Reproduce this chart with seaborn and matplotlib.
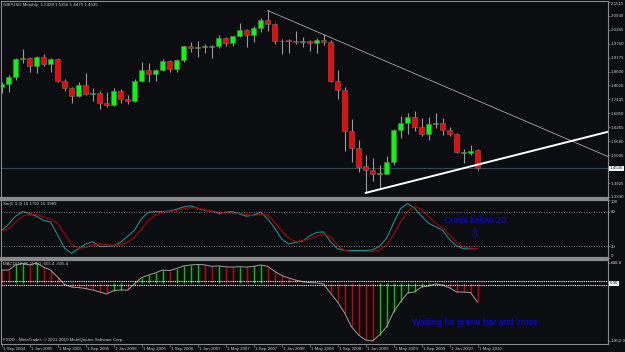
import matplotlib
matplotlib.use("Agg")
import matplotlib.pyplot as plt
import matplotlib.transforms as mtransforms
import numpy as np
import pandas as pd
import seaborn as sns

# ==============================================================================
# --- Chart data: GBPUSD monthly candles, Sep 2004 - May 2010 ---
# ==============================================================================
OPEN = [1.7960, 1.8090, 1.8350, 1.9120, 1.9180, 1.8840, 1.9210, 1.8900, 1.9120, 1.8190,
        1.7920, 1.7590, 1.8030, 1.7660, 1.7700, 1.7280, 1.7190, 1.7790, 1.7440, 1.7360,
        1.8220, 1.8680, 1.8490, 1.8680, 1.9040, 1.8720, 1.9080, 1.9650, 1.9580, 1.9610,
        1.9620, 1.9670, 1.9990, 1.9800, 2.0070, 2.0330, 2.0140, 2.0440, 2.0780, 2.0580,
        1.9860, 1.9890, 1.9880, 1.9850, 1.9860, 1.9790, 1.9910, 1.9850, 1.8220, 1.7820,
        1.6100, 1.5390, 1.4620, 1.4470, 1.4300, 1.4310, 1.4790, 1.6150, 1.6450, 1.6700,
        1.6290, 1.5980, 1.6420, 1.6450, 1.6160, 1.5980, 1.5200, 1.5180, 1.5328]
HIGH = [1.8140, 1.8450, 1.9150, 1.9550, 1.9200, 1.9250, 1.9320, 1.9150, 1.9160, 1.8300,
        1.7950, 1.8160, 1.8540, 1.7910, 1.7800, 1.7750, 1.7900, 1.7860, 1.7620, 1.8290,
        1.8980, 1.8950, 1.8720, 1.9120, 1.9100, 1.9110, 1.9680, 1.9840, 1.9880, 1.9760,
        1.9720, 2.0130, 2.0050, 2.0110, 2.0630, 2.0400, 2.0510, 2.0840, 2.1160, 2.0630,
        1.9980, 1.9960, 2.0300, 2.0050, 1.9920, 1.9990, 2.0170, 1.9910, 1.8650, 1.7940,
        1.6600, 1.5730, 1.5120, 1.4990, 1.4690, 1.5060, 1.6210, 1.6740, 1.6870, 1.6960,
        1.6660, 1.6700, 1.6880, 1.6660, 1.6280, 1.6030, 1.5350, 1.5520, 1.5356]
LOW = [1.7700, 1.7730, 1.8240, 1.8960, 1.8560, 1.8540, 1.8830, 1.8580, 1.8150, 1.7780,
       1.7280, 1.7540, 1.7600, 1.7360, 1.7030, 1.7100, 1.7170, 1.7280, 1.7230, 1.7320,
       1.8150, 1.8150, 1.8200, 1.8640, 1.8580, 1.8570, 1.9010, 1.9420, 1.9210, 1.9380,
       1.9170, 1.9600, 1.9660, 1.9660, 2.0060, 1.9630, 1.9840, 2.0260, 2.0300, 1.9750,
       1.9340, 1.9360, 1.9760, 1.9630, 1.9450, 1.9360, 1.9700, 1.8180, 1.7450, 1.5250,
       1.4810, 1.4390, 1.3510, 1.4000, 1.3660, 1.4290, 1.4690, 1.5810, 1.5990, 1.6100,
       1.5880, 1.5710, 1.6220, 1.5950, 1.5900, 1.5170, 1.4770, 1.5100, 1.4475]
CLOSE = [1.8090, 1.8350, 1.9120, 1.9180, 1.8840, 1.9210, 1.8900, 1.9120, 1.8190, 1.7920,
         1.7590, 1.8030, 1.7660, 1.7700, 1.7280, 1.7190, 1.7790, 1.7440, 1.7360, 1.8220,
         1.8680, 1.8490, 1.8680, 1.9040, 1.8720, 1.9080, 1.9650, 1.9580, 1.9610, 1.9620,
         1.9670, 1.9990, 1.9800, 2.0070, 2.0330, 2.0140, 2.0440, 2.0780, 2.0580, 1.9860,
         1.9890, 1.9880, 1.9850, 1.9860, 1.9790, 1.9910, 1.9850, 1.8220, 1.7820, 1.6100,
         1.5390, 1.4590, 1.4470, 1.4300, 1.4340, 1.4800, 1.6150, 1.6450, 1.6700, 1.6290,
         1.5980, 1.6420, 1.6450, 1.6160, 1.5980, 1.5230, 1.5210, 1.5270, 1.4535]

# Stochastic(5,3,3): main (teal) and signal (red) line
STOCH_MAIN = [47, 58, 72, 80, 77, 72, 65, 62, 40, 17, 8, 16, 24, 28, 20, 20, 21, 27, 37, 48,
              68, 79, 80, 80, 81, 84, 88, 90, 86, 82, 81, 77, 79, 80, 76, 72, 74, 79, 68, 52,
              33, 24, 27, 29, 38, 44, 45, 28, 16, 13, 13, 13, 13, 14, 20, 34, 60, 85, 94, 86,
              72, 60, 54, 48, 32, 21, 16, 16, 16.18]
STOCH_SIGNAL = [47, 50, 62, 72, 76, 75, 71, 67, 60, 42, 24, 17, 18, 23, 24, 23, 22, 23, 27, 36,
                50, 65, 74, 79, 80, 82, 85, 87, 86, 83, 81, 79, 78, 77, 77, 75, 73, 75, 74, 62,
                47, 35, 28, 30, 33, 38, 42, 36, 22, 13, 11, 11, 11, 11, 14, 22, 40, 62, 80, 89,
                84, 72, 60, 52, 40, 27, 19, 17, 16.40]

# MACD(12,26,1) histogram and bar colours (g = rising, r = falling)
MACD = [423, 420, 584, 640, 584, 648.8, 520, 423, 199, -40,
        -122, -140, -170, -218, -280, -346, -240, -215, -225, -20,
        180, 260, 330, 423, 405, 470, 552, 584, 600, 590,
        540, 555, 525, 515, 530, 515, 540, 584, 545, 385,
        250, 170, 100, 50, 20, 10, -26, -320, -600, -950,
        -1400, -1660, -1820, -1852.9, -1660, -1400, -925, -600, -314, -280,
        -120, -90, -20, -60, -150, -280, -285, -300, -605.4]
MACD_COLORS = list("rrggrgrrrr" "rrrrrrggrg" "ggggrggggr" "rgrrgrggrr"
                   "rrrrrrrrrr" "rrrrgggggg" "gggrrrrrr")

# Trend lines drawn on the price window (bar index, price)
DOWN_LINE_X = [38, 87]
DOWN_LINE_Y = [2.1160, 1.4990]
UP_LINE_X = [52, 87]
UP_LINE_Y = [1.3510, 1.6100]
BID_PRICE = 1.4535

# Axis labels
PRICE_TICKS = ["2.1515", "2.0930", "2.0345", "1.9760", "1.9175", "1.8600", "1.8020",
               "1.7435", "1.6850", "1.6265", "1.5680", "1.5095", "1.3925", "1.3340"]
TIME_TICKS = [0, 4, 8, 12, 16, 20, 24, 28, 32, 36, 40, 44, 48, 52, 56, 60, 64, 68]
TIME_LABELS = ["1 Sep 2004", "1 Jan 2005", "1 May 2005", "1 Sep 2005", "1 Jan 2006",
               "1 May 2006", "1 Sep 2006", "1 Jan 2007", "1 May 2007", "1 Sep 2007",
               "1 Jan 2008", "1 May 2008", "1 Sep 2008", "1 Jan 2009", "1 May 2009",
               "1 Sep 2009", "1 Jan 2010", "1 May 2010"]

# --- Style settings ---
BG = "#0c0d10"
SPINE = "#8a8a8a"
LABEL = "#c8c8c8"
UP_COL = "#00ff00"
DOWN_COL = "#ff0000"
WICK = "#9a9a9a"
BLUE = "#0a0aee"
SMALL = 3.2

W, H = 625, 352


def main():
    sns.set_style("dark")
    plt.rcParams['font.family'] = ['Liberation Sans', 'DejaVu Sans']

    df = pd.DataFrame({'open': OPEN, 'high': HIGH, 'low': LOW, 'close': CLOSE,
                       'sto_main': STOCH_MAIN, 'sto_sig': STOCH_SIGNAL,
                       'macd': MACD, 'macd_col': MACD_COLORS})
    df['bar'] = np.arange(len(df))

    fig = plt.figure(figsize=(W / 100, H / 100), dpi=100)
    fig.patch.set_facecolor(BG)

    def px_axes(x0, y0, x1, y1):
        return fig.add_axes([x0 / W, 1 - y1 / H, (x1 - x0) / W, (y1 - y0) / H])

    ax_main = px_axes(1, 1, 608, 198)
    ax_sto = px_axes(1, 200, 608, 258)
    ax_macd = px_axes(1, 260, 608, 343.5)

    xmin, xmax = (1 - 1.5) / 7, (608 - 1.5) / 7
    for ax in (ax_main, ax_sto, ax_macd):
        ax.set_facecolor(BG)
        ax.set_xlim(xmin, xmax)
        ax.grid(False)
        ax.yaxis.tick_right()
        ax.tick_params(axis='y', colors=SPINE, labelcolor=LABEL, labelsize=SMALL,
                       length=1.5, width=0.5, pad=0.6)
        ax.tick_params(axis='x', bottom=False, labelbottom=False)
        for s in ax.spines.values():
            s.set_color(SPINE)
            s.set_linewidth(0.8)
    ax_main.spines['bottom'].set_linewidth(1.6)
    ax_sto.spines['top'].set_linewidth(1.6)
    ax_sto.spines['bottom'].set_linewidth(1.6)
    ax_macd.spines['top'].set_linewidth(1.6)

    # --- Price window: candles ---
    up = df['close'] >= df['open']
    body_h = (df['close'] - df['open']).abs().clip(lower=0.004)
    body_bottom = df[['open', 'close']].min(axis=1)
    ax_main.vlines(df['bar'], df['low'], df['high'], color=WICK, lw=0.8, zorder=2)
    ax_main.bar(df['bar'], body_h, bottom=body_bottom, width=0.72,
                color=np.where(up, UP_COL, DOWN_COL), edgecolor="#707070",
                linewidth=0.4, zorder=3)
    ax_main.plot(DOWN_LINE_X, DOWN_LINE_Y, color="#a8a8a8", lw=0.6, zorder=4)
    ax_main.plot(UP_LINE_X, UP_LINE_Y, color="white", lw=1.4, zorder=4)
    ax_main.axhline(BID_PRICE, color="#2e4a58", lw=0.8, zorder=1)

    ax_main.set_ylim(2.1515 - (198 - 2) / 238.5, 2.1515 + 1 / 238.5)
    ax_main.set_yticks([float(t) for t in PRICE_TICKS])
    ax_main.set_yticklabels(PRICE_TICKS)
    ax_main.get_yticklabels()[0].set_va('top')
    right = mtransforms.blended_transform_factory(ax_main.transAxes, ax_main.transData)
    ax_main.text(1.003, BID_PRICE, f"{BID_PRICE:.4f}", transform=right, ha='left',
                 va='center', fontsize=SMALL, color='black', clip_on=False,
                 bbox=dict(boxstyle='square,pad=0.1', fc='white', ec='none'))

    # --- Stochastic window ---
    sns.lineplot(x=df['bar'], y=df['sto_main'], ax=ax_sto, color="#1f8c8c", lw=0.8)
    sns.lineplot(x=df['bar'], y=df['sto_sig'], ax=ax_sto, color="#b00000", lw=0.8)
    for lvl in (80, 20):
        ax_sto.axhline(lvl, color="#a0a0a0", lw=0.6, ls=(0, (1, 2)))
    ax_sto.set_ylim(0, 100)
    ax_sto.set_yticks([100, 80, 20, 0])
    ax_sto.set_yticklabels(["100", "80", "20", "0"])
    ax_sto.get_yticklabels()[0].set_va('top')
    ax_sto.get_yticklabels()[3].set_va('bottom')
    ax_sto.set_xlabel('')
    ax_sto.set_ylabel('')
    ax_sto.text(67.6, 65, "Cross below 20", color=BLUE, fontsize=6.5,
                family=['Liberation Sans', 'DejaVu Sans'], ha='center', va='center')
    ax_sto.text(67.6, 40, "\u21e9", color=BLUE, fontsize=9,
                family=['DejaVu Sans'], ha='center', va='center')

    # --- MACD window ---
    col_map = {'g': "#00c800", 'r': "#c80000"}
    ax_macd.vlines(df['bar'], 0, df['macd'], colors=[col_map[c] for c in df['macd_col']],
                   lw=1.0, zorder=2)
    sns.lineplot(x=df['bar'], y=df['macd'], ax=ax_macd, color="#a0a0a0", lw=0.7, zorder=3)
    for off in (55, -55):
        ax_macd.axhline(off, color="white", lw=0.8, ls=(0, (1, 1)), zorder=4)
    ax_macd.set_ylim((283.2 - 343.5) * 32.07, (283.2 - 260) * 32.07)
    ax_macd.set_yticks([648.8, -1852.9])
    ax_macd.set_yticklabels(["648.8", "-1852.9"])
    ax_macd.set_xlabel('')
    ax_macd.set_ylabel('')
    right_m = mtransforms.blended_transform_factory(ax_macd.transAxes, ax_macd.transData)
    ax_macd.text(1.003, 0, "0.00", transform=right_m, ha='left', va='center',
                 fontsize=SMALL, color='black', clip_on=False,
                 bbox=dict(boxstyle='square,pad=0.1', fc='white', ec='none'))
    ax_macd.text(67.6, -1276, "Waiting for green bar and cross", color=BLUE, fontsize=6.5,
                 family=['Liberation Sans', 'DejaVu Sans'], ha='center', va='center')

    # time axis
    ax_macd.set_xticks(TIME_TICKS)
    ax_macd.set_xticklabels(TIME_LABELS, ha='left')
    ax_macd.tick_params(axis='x', bottom=True, labelbottom=True, length=2, width=0.5,
                        colors=SPINE, labelcolor=LABEL, labelsize=SMALL, pad=0.3)
    shift = mtransforms.ScaledTranslation(1.5 / 100, 0, fig.dpi_scale_trans)
    for lab in ax_macd.get_xticklabels():
        lab.set_transform(lab.get_transform() + shift)

    # --- Window titles ---
    def px_text(x, y, s):
        fig.text(x / W, 1 - y / H, s, fontsize=SMALL, color=LABEL, ha='left', va='center')

    px_text(3, 5, "GBPUSD,Monthly  1.5328 1.5356 1.4475 1.4535")
    px_text(3, 204, "Sto(5,3,3) 16.1762 16.3989")
    px_text(3, 264, "MACD(12,26,1) 0.0 -605.4 -605.4")
    px_text(3, 340, "FXDD - MetaTrader, \u00a9 2001-2010 MetaQuotes Software Corp.")

    fig.savefig("out.png", dpi=100, facecolor=BG)


if __name__ == "__main__":
    main()
